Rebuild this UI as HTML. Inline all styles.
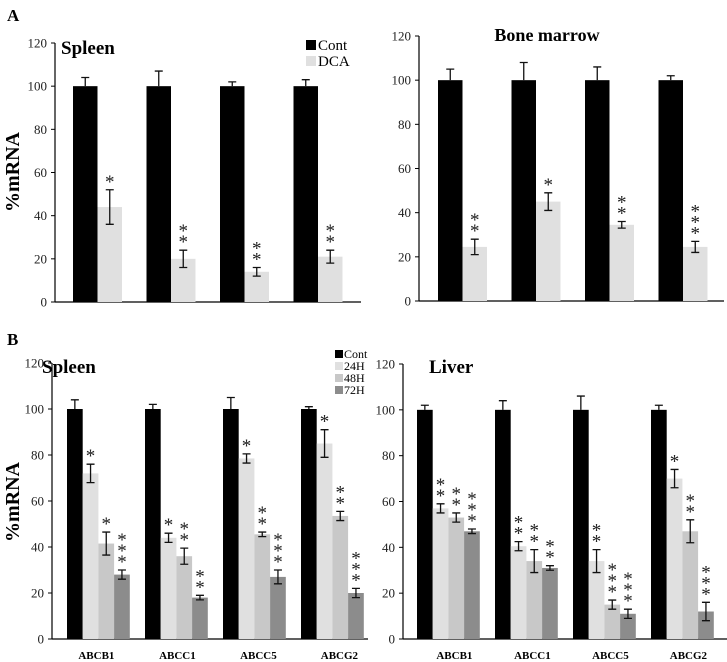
<!DOCTYPE html>
<html><head><meta charset="utf-8"><style>
body{margin:0;background:#fff}
svg{display:block;font-family:"Liberation Serif",serif}
</style></head><body>
<svg id="fig" width="727" height="662" viewBox="0 0 727 662">
<text x="7" y="21" font-size="17" font-weight="bold">A</text>
<text x="7" y="345" font-size="17" font-weight="bold">B</text>
<text transform="translate(19,172) rotate(-90)" text-anchor="middle" font-size="20" font-weight="bold">%mRNA</text>
<text transform="translate(19,502) rotate(-90)" text-anchor="middle" font-size="20" font-weight="bold">%mRNA</text>
<text x="61" y="54" font-size="19" font-weight="bold">Spleen</text>
<text x="547" y="41" text-anchor="middle" font-size="18" font-weight="bold">Bone marrow</text>
<text x="42" y="373" font-size="19" font-weight="bold">Spleen</text>
<text x="429" y="373" font-size="19" font-weight="bold">Liver</text>
<g>
<rect x="306" y="40" width="10" height="10" fill="#000"/><text x="318" y="50" font-size="15">Cont</text>
<rect x="306" y="56" width="10" height="10" fill="#e0e0e0"/><text x="318" y="66" font-size="15">DCA</text>
</g>
<g font-size="12">
<rect x="335" y="350" width="8" height="8" fill="#000"/><text x="344" y="358">Cont</text>
<rect x="335" y="362" width="8" height="8" fill="#e0e0e0"/><text x="344" y="370">24H</text>
<rect x="335" y="374" width="8" height="8" fill="#c8c8c8"/><text x="344" y="382">48H</text>
<rect x="335" y="386" width="8" height="8" fill="#8c8c8c"/><text x="344" y="394">72H</text>
</g>
</svg>
<script>
// Panel A spleen
const aSpleenCont=[100,100,100,100];
const aSpleenContErr=[4,7,2,3];
const aSpleenDca=[44,20,14,21];
const aSpleenDcaErr=[8,4,2,3];
const aSpleenStars=[1,2,2,2];
// Panel A bone marrow
const aBmCont=[100,100,100,100];
const aBmContErr=[5,8,6,2];
const aBmDca=[24.5,45,34.5,24.5];
const aBmDcaErr=[3.5,4,1.5,2.5];
const aBmStars=[2,1,2,3];
// Panel B spleen
const categories=["ABCB1","ABCC1","ABCC5","ABCG2"];
const bSpleenCont=[100,100,100,100];
const bSpleenContErr=[4,2,5,1];
const bSpleen24=[72,44,78.5,85];
const bSpleen24Err=[4,2,2,6];
const bSpleen48=[41.5,36,45.5,53.5];
const bSpleen48Err=[5,3.5,1,2];
const bSpleen72=[28,18,27,20];
const bSpleen72Err=[2,1,3,2];
const bSpleenStars24=[1,1,1,1];
const bSpleenStars48=[1,2,2,2];
const bSpleenStars72=[3,2,3,3];
// Panel B liver
const bLiverCont=[100,100,100,100];
const bLiverContErr=[2,4,6,2];
const bLiver24=[57,40.5,34,70];
const bLiver24Err=[2,2,5,4];
const bLiver48=[53,34,15,47];
const bLiver48Err=[2,5,2,5];
const bLiver72=[47,31,11,12];
const bLiver72Err=[1,1,2,4];
const bLiverStars24=[2,2,2,1];
const bLiverStars48=[2,2,3,2];
const bLiverStars72=[3,2,3,3];
const yTicks=[0,20,40,60,80,100,120];

const NS="http://www.w3.org/2000/svg";
const svg=document.getElementById('fig');
function mk(tag,attrs,parent){const e=document.createElementNS(NS,tag);for(const k in attrs)e.setAttribute(k,attrs[k]);(parent||svg).appendChild(e);return e;}

function chart(cfg){
  const g=mk('g',{});
  
  
  const y=v=>cfg.y0-(cfg.y0-cfg.y120)*v/120;
  const ax=mk('line',{x1:cfg.ax,y1:y(120),x2:cfg.ax,y2:cfg.y0,stroke:'#000','stroke-width':1.2},g);
  
  
  const xl=mk('line',{x1:cfg.ax,y1:cfg.y0,x2:cfg.xend,y2:cfg.y0,stroke:'#000','stroke-width':1.2},g);
  
  
  yTicks.forEach(t=>{
    mk('line',{x1:cfg.ax-4,y1:y(t),x2:cfg.ax,y2:y(t),stroke:'#000'},g);
    const tx=mk('text',{x:cfg.ax-8,y:y(t)+4.5,'text-anchor':'end','font-size':13,fill:'#222'},g);
    tx.textContent=t;
    
    
  });
  cfg.series.forEach((s,si)=>{
    s.vals.forEach((v,i)=>{
      const x=cfg.gx+i*cfg.sp+si*cfg.bw;
      const r=mk('rect',{x:x,y:y(v),width:cfg.bw,height:cfg.y0-y(v),fill:s.color},g);
      
      
      const cx=x+cfg.bw/2, e=s.err[i];
      const hi=y(v+e), lo=si===0?y(v):y(v-e);
      const eb=mk('path',{d:`M${cx},${hi}V${lo}M${cx-4},${hi}H${cx+4}`+(si===0?'':`M${cx-4},${lo}H${cx+4}`),stroke:'#111','stroke-width':1.3,fill:'none'},g);
      
      
      if(s.stars){
        const n=s.stars[i];
        for(let k=0;k<n;k++){
          const st=mk('text',{x:cx,y:hi-2-k*11,'text-anchor':'middle','font-size':19,fill:'#222'},g);
          st.textContent='*';
          
          
        }
      }
    });
  });
  if(cfg.labels){
    categories.forEach((c,i)=>{
      const t=mk('text',{x:cfg.gx+i*cfg.sp+cfg.bw*2+cfg.lo+i*cfg.ls,y:cfg.y0+20,'text-anchor':'middle','font-size':11,'font-weight':'bold'},g);
      t.textContent=c;
      
      
    });
  }
}
chart({name:'chart-a-spleen',ax:55,y0:302,y120:43,xend:361,gx:73,sp:73.5,bw:24.5,series:[
  {key:'cont',color:'#000',vals:aSpleenCont,err:aSpleenContErr},
  {key:'dca',color:'#e0e0e0',vals:aSpleenDca,err:aSpleenDcaErr,stars:aSpleenStars}]});
chart({name:'chart-a-bone-marrow',ax:419,y0:301,y120:36,xend:724,gx:438,sp:73.5,bw:24.5,series:[
  {key:'cont',color:'#000',vals:aBmCont,err:aBmContErr},
  {key:'dca',color:'#e0e0e0',vals:aBmDca,err:aBmDcaErr,stars:aBmStars}]});
chart({name:'chart-b-spleen',ax:52,y0:639,y120:363,xend:368,gx:67,sp:78,bw:15.7,labels:true,lo:-2,ls:3,series:[
  {key:'cont',color:'#000',vals:bSpleenCont,err:bSpleenContErr},
  {key:'24h',color:'#e0e0e0',vals:bSpleen24,err:bSpleen24Err,stars:bSpleenStars24},
  {key:'48h',color:'#c8c8c8',vals:bSpleen48,err:bSpleen48Err,stars:bSpleenStars48},
  {key:'72h',color:'#8c8c8c',vals:bSpleen72,err:bSpleen72Err,stars:bSpleenStars72}]});
chart({name:'chart-b-liver',ax:403,y0:639,y120:364,xend:727,gx:417,sp:78,bw:15.7,labels:true,lo:6,ls:0,series:[
  {key:'cont',color:'#000',vals:bLiverCont,err:bLiverContErr},
  {key:'24h',color:'#e0e0e0',vals:bLiver24,err:bLiver24Err,stars:bLiverStars24},
  {key:'48h',color:'#c8c8c8',vals:bLiver48,err:bLiver48Err,stars:bLiverStars48},
  {key:'72h',color:'#8c8c8c',vals:bLiver72,err:bLiver72Err,stars:bLiverStars72}]});
</script>
</body></html>
